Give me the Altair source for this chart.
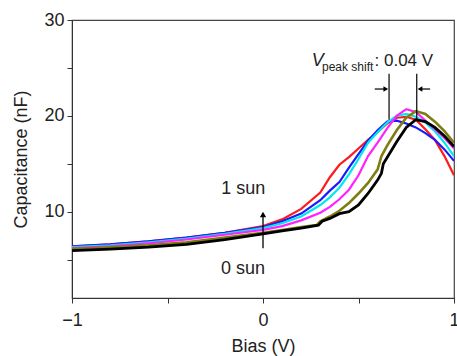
import altair as alt
import pandas as pd

# ---- data ----
bias_common = [-1.0, -0.8, -0.6, -0.4, -0.2, 0.0, 0.1, 0.2, 0.3, 0.35, 0.4, 0.45,
               0.5, 0.55, 0.6, 0.65, 0.7, 0.75, 0.8, 0.85, 0.9, 0.95, 1.0]
cap_red = [6.4, 6.6, 6.9, 7.3, 7.8, 8.5, 9.2, 10.3, 12.0, 13.6, 14.9, 15.7,
           16.6, 17.5, 18.3, 19.2, 19.8, 19.9, 19.6, 18.6, 17.5, 15.8, 13.8]
cap_blue = [6.4, 6.6, 6.9, 7.3, 7.8, 8.4, 9.0, 9.8, 11.2, 12.2, 13.1, 14.6,
            16.0, 17.4, 18.5, 19.4, 19.5, 19.2, 18.8, 18.2, 17.5, 16.5, 15.3]
cap_cyan = [6.3, 6.5, 6.8, 7.2, 7.7, 8.3, 8.8, 9.5, 10.7, 11.5, 12.5, 13.9,
            15.5, 17.2, 18.3, 19.3, 20.0, 20.2, 19.9, 19.3, 18.4, 17.2, 15.8]
cap_magenta = [6.2, 6.4, 6.7, 7.1, 7.6, 8.1, 8.5, 9.1, 9.9, 10.5, 11.3, 12.3,
               13.8, 15.8, 17.2, 18.7, 20.0, 20.7, 20.4, 19.5, 18.6, 17.7, 16.6]

bias_olive = [-1.0, -0.8, -0.6, -0.4, -0.2, 0.0, 0.1, 0.2, 0.28, 0.3, 0.35, 0.4, 0.45,
              0.5, 0.55, 0.6, 0.62, 0.65, 0.7, 0.75, 0.8, 0.85, 0.9, 0.95, 1.0]
cap_olive = [6.1, 6.3, 6.5, 6.8, 7.3, 7.8, 8.1, 8.4, 8.6, 9.0, 9.5, 10.1, 10.9,
             11.9, 13.0, 14.4, 15.8, 16.9, 18.5, 19.8, 20.5, 20.2, 19.4, 18.4, 17.2]

bias_black = [-1.0, -0.8, -0.6, -0.4, -0.2, 0.0, 0.1, 0.2, 0.29, 0.31, 0.35, 0.4, 0.45,
              0.5, 0.55, 0.6, 0.62, 0.63, 0.7, 0.75, 0.8, 0.85, 0.9, 0.95, 1.0]
cap_black = [5.95, 6.1, 6.3, 6.6, 7.1, 7.7, 8.0, 8.3, 8.6, 9.0, 9.3, 9.8, 10.0,
             10.7, 11.9, 13.3, 14.0, 15.0, 17.3, 18.8, 19.6, 19.4, 18.8, 17.9, 16.8]

series_names = ["red", "blue", "cyan", "magenta", "olive", "black"]
series_colors = ["#ff1a1a", "#1a1aff", "#00e8f0", "#ff22ff", "#7d7d10", "#000000"]
series_widths = [2.2, 2.2, 2.2, 2.2, 2.6, 2.8]

rows = []
for name, xs, ys in [("red", bias_common, cap_red), ("blue", bias_common, cap_blue),
                     ("cyan", bias_common, cap_cyan), ("magenta", bias_common, cap_magenta),
                     ("olive", bias_olive, cap_olive), ("black", bias_black, cap_black)]:
    for i, (xv, yv) in enumerate(zip(xs, ys)):
        rows.append({"series": name, "x": xv, "y": yv, "i": i})
df = pd.DataFrame(rows)

x_ticks = [-1, -0.5, 0, 0.5, 1]
y_ticks = [5, 10, 15, 20, 25, 30]

FONT = "Liberation Sans"
FS = 18

xscale = alt.Scale(domain=[-1, 1], nice=False, zero=False)
yscale = alt.Scale(domain=[1, 30], nice=False, zero=False)

xaxis = alt.Axis(values=x_ticks, title="Bias (V)", grid=False,
                 labelExpr="datum.value == -1 ? '\u22121' : (datum.value == 0 ? '0' : (datum.value == 1 ? '1' : ''))",
                 labelFontSize=FS, titleFontSize=FS, labelFont=FONT, titleFont=FONT,
                 labelColor="#222", titleColor="#222", domainColor="#333", tickColor="#333",
                 tickSize=5, labelPadding=8, titlePadding=8, labelFlush=False, titleFontWeight="normal")
yaxis = alt.Axis(values=y_ticks, title="Capacitance (nF)", grid=False,
                 labelExpr="datum.value % 10 == 0 ? format(datum.value, 'd') : ''",
                 labelFontSize=FS, titleFontSize=FS, labelFont=FONT, titleFont=FONT,
                 labelColor="#222", titleColor="#222", domainColor="#333", tickColor="#333",
                 tickSize=5, labelPadding=3, titlePadding=13, labelFlush=False, titleFontWeight="normal")


def X(field="x"):
    return alt.X(f"{field}:Q", scale=xscale, axis=xaxis)


def Y(field="y"):
    return alt.Y(f"{field}:Q", scale=yscale, axis=yaxis)


lines = []
for name, col, w in zip(series_names, series_colors, series_widths):
    lines.append(
        alt.Chart(df[df.series == name]).mark_line(color=col, strokeWidth=w, clip=True).encode(
            x=X(), y=Y(), order="i:Q",
        )
    )

# annotations
arrow_line = alt.Chart(pd.DataFrame({"x": [0.0], "y": [6.2], "y2": [9.6]})).mark_rule(
    color="black", strokeWidth=1.3).encode(x=X(), y=Y(), y2="y2:Q")
arrow_head = alt.Chart(pd.DataFrame({"x": [0.0], "y": [9.7]})).mark_point(
    shape="triangle-up", filled=True, color="black", size=40, opacity=1).encode(x=X(), y=Y())

sun_df = pd.DataFrame({"x": [-0.103, -0.105], "y": [12.4, 4.0], "t": ["1 sun", "0 sun"]})
sun_text = alt.Chart(sun_df).mark_text(font=FONT, fontSize=FS, color="#222",
                                       baseline="middle", align="center").encode(
    x=X(), y=Y(), text="t:N")

vl_df = pd.DataFrame({"x": [0.66, 0.805], "y": [19.6, 19.6], "y2": [24.4, 24.4]})
vlines = alt.Chart(vl_df).mark_rule(color="black", strokeWidth=1.2).encode(
    x=X(), y=Y(), y2="y2:Q")

harr_df = pd.DataFrame({"x": [0.585, 0.82], "x2": [0.645, 0.875], "y": [22.8, 22.8]})
harr = alt.Chart(harr_df).mark_rule(color="black", strokeWidth=1.2).encode(
    x=X(), x2="x2:Q", y=Y())
head_df = pd.DataFrame({"x": [0.643, 0.822], "y": [22.8, 22.8],
                        "s": ["triangle-right", "triangle-left"]})
heads = alt.Chart(head_df).mark_point(filled=True, color="black", size=30, opacity=1).encode(
    x=X(), y=Y(), shape=alt.Shape("s:N", scale=None))

v_text = alt.Chart(pd.DataFrame({"x": [0.255], "y": [25.15], "t": ["V"]})).mark_text(
    font=FONT, fontSize=FS, fontStyle="italic", color="#222", align="left", baseline="alphabetic").encode(
    x=X(), y=Y(), text="t:N")
sub_text = alt.Chart(pd.DataFrame({"x": [0.309], "y": [24.65], "t": ["peak shift"]})).mark_text(
    font=FONT, fontSize=12, color="#222", align="left", baseline="alphabetic").encode(
    x=X(), y=Y(), text="t:N")
val_text = alt.Chart(pd.DataFrame({"x": [0.584], "y": [25.15], "t": [": 0.04 V"]})).mark_text(
    font=FONT, fontSize=17, color="#222", align="left", baseline="alphabetic").encode(
    x=X(), y=Y(), text="t:N")

chart = alt.layer(*lines, arrow_line, arrow_head, sun_text, vlines, harr, heads,
                  v_text, sub_text, val_text).properties(
    width=382, height=278,
    autosize=alt.AutoSizeParams(type="none"),
    padding={"left": 72, "top": 20, "right": 3, "bottom": 58},
    background="white",
).configure_view(stroke="#444", strokeWidth=1.2)

chart.save("out.html", embed_options={"renderer": "svg", "actions": False})
